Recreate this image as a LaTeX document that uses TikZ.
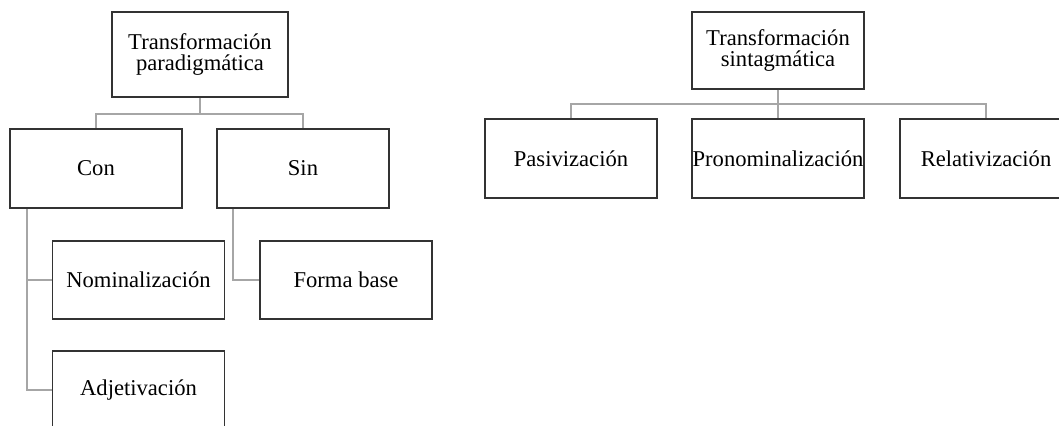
\documentclass[tikz,border=0pt]{standalone}
\usepackage{fontspec}
\setmainfont{Liberation Serif}
\usepackage{tikz}

\tikzset{
  caja/.style={draw=black!80,line width=0.9pt,fill=white,align=center,
    inner sep=0pt,minimum width=86pt,minimum height=39.5pt,
    font=\fontsize{11.3}{10.6}\selectfont},
  enlace/.style={draw=black!35,line width=0.8pt}
}

\begin{document}
\begin{tikzpicture}[x=0.5pt,y=-0.5pt]
\useasboundingbox (0,0) rectangle (1059,425);
%%%%%%%%%%%%%%%%%%%%%%%%%%%%%%%%
%% paradigmatica
%%%%%%%%%%%%%%%%%%%%%%%%%%%%%%%%
\node[caja,minimum width=88pt,minimum height=42.5pt] (tp) at (200,54.5) {Transformación\\paradigmática};
\node[caja] (con) at (96,168.5) {Con};
\node[caja] (sin) at (303,168.5) {Sin};

\node[caja,minimum height=39pt] (nom) at (138.5,280) {Nominalización};
\node[caja,minimum height=39pt] (adj) at (138.5,390) {Adjetivación};
\node[caja,minimum height=39pt] (forma) at (346,280) {Forma base};
%
\draw[enlace] (tp.south) -- ++(0,16) -| (con.north);
\draw[enlace] (tp.south) -- ++(0,16) -| (sin.north);

\draw[enlace] ([xshift=9pt]con.south west) |- (nom.west);
\draw[enlace] ([xshift=9pt]con.south west) |- (adj.west);
\draw[enlace] ([xshift=8.5pt]sin.south west) |- (forma.west);
%
%%%%%%%%%%%%%%%%%%%%%%%%%%%%%%%%
%% sintagmatica
%%%%%%%%%%%%%%%%%%%%%%%%%%%%%%%%
\node[caja,minimum height=38.5pt] (ts) at (778,50.5) {Transformación\\sintagmática};
\node[caja] (pas) at (571,158.5) {Pasivización};
\node[caja] (pro) at (778,158.5) {Pronominalización};
\node[caja] (rel) at (986,158.5) {Relativización};
%
\draw[enlace] (ts.south) -- ++(0,14) -| (pas.north);
\draw[enlace] (ts.south) -- (pro.north);
\draw[enlace] (ts.south) -- ++(0,14) -| (rel.north);
\end{tikzpicture}
\end{document}
